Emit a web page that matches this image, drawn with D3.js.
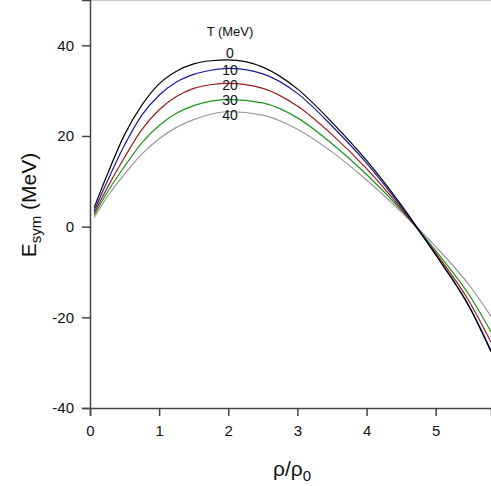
<!DOCTYPE html>
<meta charset="utf-8">
<title>Esym vs density</title>
<body>
<script src="https://cdn.jsdelivr.net/npm/d3@7"></script>
<style>
html, body {
    margin: 0;
    background: #fff;
}
svg {
    display: block;
    font-family: "Liberation Sans", Arial, sans-serif;
}
</style>
<script>
// density grid (rho/rho0) and Esym (MeV)
var rho = [0.06, 0.25, 0.5, 0.75, 1.0, 1.25, 1.5, 1.75, 2.0, 2.5, 3.0, 3.5, 4.0, 4.5, 5.0, 5.5, 5.8];

var temps = ["0", "10", "20", "30", "40"];

var esym0  = [4.2, 11.5, 20.3, 26.8, 31.5, 34.3, 35.9, 36.6, 36.8, 35.2, 30.4, 23.0, 14.6, 4.8, -6.2, -18.1, -27.6];
var esym10 = [3.5, 10.0, 18.0, 24.6, 29.0, 31.9, 33.6, 34.5, 34.9, 33.7, 29.4, 22.2, 14.0, 4.4, -6.2, -18.0, -27.3];
var esym20 = [3.0,  8.6, 15.3, 21.4, 25.8, 28.7, 30.5, 31.3, 31.6, 30.5, 26.6, 20.3, 12.8, 4.0, -5.8, -16.9, -25.5];
var esym30 = [2.5,  7.6, 13.3, 18.5, 22.3, 25.0, 26.7, 27.7, 28.1, 27.3, 24.0, 18.3, 11.5, 3.7, -5.3, -15.4, -23.2];
var esym40 = [2.0,  6.6, 11.6, 16.0, 19.4, 21.9, 23.6, 24.8, 25.4, 24.6, 21.5, 16.5, 10.3, 3.3, -4.4, -13.2, -19.8];

var colors = ["#000000", "#1a1a9a", "#9a1a1a", "#1a961a", "#999999"];

var xTicks = [0, 1, 2, 3, 4, 5];
var yTicks = [-40, -20, 0, 20, 40];

var width = 491,
    height = 486;

var series = [esym0, esym10, esym20, esym30, esym40].map(function(v, i) {
    return { t: temps[i], color: colors[i], values: v.map(function(e, j) { return [rho[j], e]; }) };
});

var x = d3.scaleLinear().domain([0, 5.8]).range([90, 491]);
var y = d3.scaleLinear().domain([-40, 50]).range([408, 0]);

var svg = d3.select("body").append("svg")
    .attr("width", width)
    .attr("height", height);

svg.append("clipPath")
    .attr("id", "clip")
    .append("rect")
    .attr("x", 90)
    .attr("y", 0)
    .attr("width", 401)
    .attr("height", 408);

// top frame line
svg.append("line")
    .attr("x1", 90).attr("x2", width)
    .attr("y1", 0.5).attr("y2", 0.5)
    .attr("stroke", "#c8c8c8");

var line = d3.line()
    .x(function(d) { return x(d[0]); })
    .y(function(d) { return y(d[1]); })
    .curve(d3.curveMonotoneX);

svg.append("g")
    .attr("clip-path", "url(#clip)")
    .selectAll("path")
    .data(series.slice().reverse())
    .enter().append("path")
    .attr("fill", "none")
    .attr("stroke", function(d) { return d.color; })
    .attr("stroke-width", 1.2)
    .attr("d", function(d) { return line(d.values); });

var fmt = function(d) { return String(d); };

var yAxis = svg.append("g")
    .attr("transform", "translate(90,0)")
    .call(d3.axisLeft(y).tickValues(yTicks).tickFormat(fmt).tickSize(8).tickPadding(8));

var xAxis = svg.append("g")
    .attr("transform", "translate(0,408)")
    .call(d3.axisBottom(x).tickValues(xTicks).tickFormat(fmt).tickSize(8).tickPadding(9));

[yAxis, xAxis].forEach(function(g) {
    g.select(".domain").attr("stroke", "#444").attr("stroke-width", 1.5);
    g.selectAll(".tick line").attr("stroke", "#444").attr("stroke-width", 1.5);
    g.selectAll(".tick text")
        .attr("fill", "#111")
        .style("font-size", "15px")
        .style("font-family", "'Liberation Sans', Arial, sans-serif");
});

// axis titles
var yTitle = svg.append("text")
    .attr("transform", "translate(36,205)rotate(-90)")
    .attr("text-anchor", "middle")
    .style("font-size", "21px")
    .attr("fill", "#111");
yTitle.append("tspan").text("E");
yTitle.append("tspan").attr("dy", 5).style("font-size", "15px").text("sym");
yTitle.append("tspan").attr("dy", -5).text(" (MeV)");

var xTitle = svg.append("text")
    .attr("x", 292)
    .attr("y", 476)
    .attr("text-anchor", "middle")
    .style("font-size", "21px")
    .attr("fill", "#111");
xTitle.append("tspan").text("ρ/ρ");
xTitle.append("tspan").attr("dy", 5).style("font-size", "15px").text("0");

// temperature labels
svg.append("text")
    .attr("x", 230)
    .attr("y", 36)
    .attr("text-anchor", "middle")
    .style("font-size", "13px")
    .attr("fill", "#111")
    .text("T (MeV)");

var labelY = [53, 70, 85, 100, 115];
svg.selectAll(".tlabel")
    .data(series)
    .enter().append("text")
    .attr("class", "tlabel")
    .attr("x", 230)
    .attr("y", function(d, i) { return labelY[i]; })
    .attr("dy", "0.35em")
    .attr("text-anchor", "middle")
    .style("font-size", "14px")
    .attr("fill", "#111")
    .text(function(d) { return d.t; });
</script>
